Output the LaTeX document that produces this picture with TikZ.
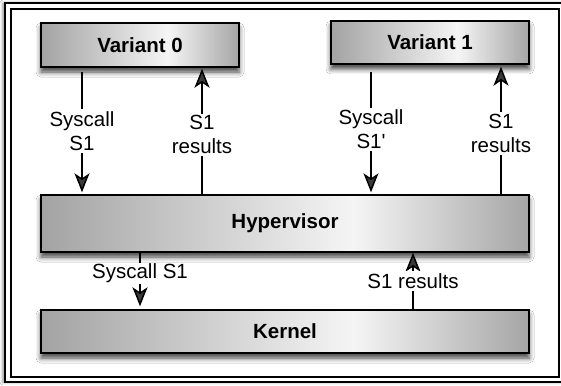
\documentclass[tikz,border=0pt]{standalone}
\usepackage{fontspec}
\setmainfont{Liberation Sans}[Ligatures=TeXOff]
\usetikzlibrary{arrows.meta,shadows.blur,calc}

% grey layer fill: darker at both ends, lightest a little right of centre
\pgfdeclarehorizontalshading{layershade}{100bp}{%
  color(0bp)=(black!36); color(25bp)=(black!36);
  color(57bp)=(black!4);
  color(75bp)=(black!35); color(100bp)=(black!35)}

\begin{document}
\begin{tikzpicture}[x=1pt,y=-1pt,
  layer/.style={draw=black, line width=1.4pt, shade, shading=layershade,
    blur shadow={shadow xshift=0pt, shadow yshift=-5pt,
      shadow blur radius=5pt, shadow opacity=75},
    font=\bfseries\fontsize{20.5}{24}\selectfont, inner sep=0pt},
  flow/.style={line width=1.5pt,
    -{Stealth[length=19pt,width=15pt,inset=5pt]}},
  tag/.style={fill=white, font=\fontsize{20.5}{24}\selectfont,
    align=center, inner xsep=2pt, inner ysep=2pt},
  flattag/.style={tag, inner xsep=10pt, inner ysep=1pt}]

\useasboundingbox (0,0) rectangle (561,385);
\clip (0,0) rectangle (561,385);
\fill[white] (0,0) rectangle (561,385);

% double frame
\draw[line width=1.4pt, fill=white,
  blur shadow={shadow xshift=-2pt, shadow yshift=0pt,
    shadow blur radius=3pt, shadow opacity=45}]
  (5,3) rectangle (566,382);
\draw[line width=1.4pt] (11,9) rectangle (559,377);

% layers
\node[layer, minimum width=198pt, minimum height=44pt] (v0) at (140,45) {Variant 0};
\node[layer, minimum width=198pt, minimum height=43pt] (v1) at (430,42.5) {Variant 1};
\node[layer, minimum width=488pt, minimum height=57pt] (hyp) at (285,223.5) {Hypervisor};
\node[layer, minimum width=488pt, minimum height=43pt] (ker) at (285,331.5) {Kernel};

% arrow columns
\coordinate (c1) at (82,0);
\coordinate (c2) at (202,0);
\coordinate (c3) at (371,0);
\coordinate (c4) at (501,0);
\coordinate (c5) at (140,0);
\coordinate (c6) at (413,0);

% variant <-> hypervisor
\draw[flow, shorten <=4pt, shorten >=2pt] (v0.south -| c1) --
  node[tag]{Syscall\\S1} (hyp.north -| c1);
\draw[flow, shorten >=1pt] (hyp.north -| c2) --
  node[tag, pos=0.47]{S1\\results} (v0.south -| c2);
\draw[flow, shorten <=7pt, shorten >=2pt] (v1.south -| c3) --
  node[tag]{Syscall\\S1'} (hyp.north -| c3);
\draw[flow, shorten >=2pt] (hyp.north -| c4) --
  node[tag, pos=0.47]{S1\\results} (v1.south -| c4);

% hypervisor <-> kernel
\draw[flow, shorten >=3pt] (hyp.south -| c5) --
  node[flattag, pos=0.36]{Syscall S1} (ker.north -| c5);
\draw[flow] (ker.north -| c6) --
  node[tag, inner xsep=0pt, pos=0.5]{S1 results} (hyp.south -| c6);
\end{tikzpicture}
\end{document}
